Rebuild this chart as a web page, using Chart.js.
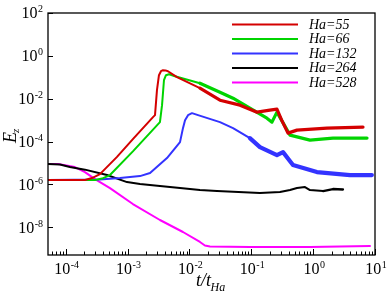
<!DOCTYPE html>
<html><head><meta charset="utf-8">
<style>html,body{margin:0;padding:0;background:#fff}canvas{display:block}</style>
<script src="https://cdn.jsdelivr.net/npm/chart.js@4.4.1/dist/chart.umd.min.js"></script>
</head><body>
<canvas id="c" width="392" height="295"></canvas>
<script>
// ---- data (t/t_Ha vs E_z) ----
const seriesLabels = ['Ha=55', 'Ha=66', 'Ha=132', 'Ha=264', 'Ha=528'];

const t55 = [5.18e-5, 2.05e-4, 2.66e-4, 3.09e-4, 3.58e-4, 6.7e-4, 1.22e-3, 2.58e-3, 2.78e-3, 2.99e-3, 3.22e-3, 3.47e-3, 3.74e-3, 4.1e-3, 4.5e-3, 6.3e-3, 1.48e-2, 3.12e-2, 6.58e-2, 0.124, 0.2, 0.26, 0.31, 0.392, 0.548, 1.67, 6.4];
const E55 = [1.6e-6, 1.62e-6, 1.98e-6, 2.45e-6, 3.04e-6, 1.89e-5, 1.3e-4, 1.38e-3, 1.71e-3, 0.025, 0.125, 0.192, 0.214, 0.21, 0.192, 0.101, 0.031, 8.55e-3, 5.0e-3, 2.36e-3, 2.92e-3, 3.26e-3, 1.0e-3, 2.48e-4, 3.42e-4, 4.24e-4, 4.72e-4];

const t66 = [5.18e-5, 2.98e-4, 3.86e-4, 5.2e-4, 1.22e-3, 3.34e-3, 3.61e-3, 3.88e-3, 4.18e-3, 4.68e-3, 5.85e-3, 1.48e-2, 3.12e-2, 5.07e-2, 9.5e-2, 0.179, 0.216, 0.26, 0.423, 0.889, 2.09, 7.43];
const E66 = [1.6e-6, 1.62e-6, 1.88e-6, 2.74e-6, 3.48e-5, 8.07e-4, 5.0e-3, 0.073, 0.125, 0.139, 0.112, 0.053, 0.0202, 0.0106, 3.62e-3, 1.24e-3, 8.07e-4, 2.36e-3, 2.0e-4, 1.17e-4, 1.45e-4, 1.45e-4];

const t132 = [5.18e-5, 3.58e-4, 7.55e-4, 1.59e-3, 2.31e-3, 3.1e-3, 4.34e-3, 7.05e-3, 7.87e-3, 8.5e-3, 9.5e-3, 1.1e-2, 1.38e-2, 3.12e-2, 5.07e-2, 9.5e-2, 0.138, 0.26, 0.326, 0.472, 1.15, 3.94, 8.9];
const E132 = [1.6e-6, 1.7e-6, 1.98e-6, 2.45e-6, 3.39e-6, 7.2e-6, 1.7e-5, 9.4e-5, 4.24e-4, 1e-3, 1.71e-3, 2.12e-3, 1.71e-3, 8.07e-4, 4.24e-4, 1.45e-4, 5.5e-5, 2.34e-5, 3.23e-5, 8.0e-6, 3.78e-6, 2.74e-6, 2.74e-6];

const t264 = [5.18e-5, 8.09e-5, 1.17e-4, 2.05e-4, 4.66e-4, 9.8e-4, 1.59e-3, 3.34e-3, 7.05e-3, 1.48e-2, 2.79e-2, 0.138, 0.291, 0.423, 0.548, 0.738, 0.889, 1.45, 2.09, 3.03];
const E264 = [8.9e-6, 8.45e-6, 6.46e-6, 4.9e-6, 2.74e-6, 1.29e-6, 1.04e-6, 8.4e-7, 6.78e-7, 5.47e-7, 4.91e-7, 3.96e-7, 4.41e-7, 5.47e-7, 6.78e-7, 7.55e-7, 5.47e-7, 4.91e-7, 6.08e-7, 5.8e-7];

const t528 = [5.18e-5, 7.51e-5, 1.41e-4, 2.05e-4, 2.98e-4, 5.2e-4, 1.22e-3, 3.34e-3, 7.87e-3, 1.48e-2, 1.78e-2, 2.15e-2, 9.5e-2, 0.889, 8.3];
const E528 = [8.9e-6, 8.9e-6, 6.46e-6, 3.78e-6, 1.78e-6, 6.78e-7, 1.22e-7, 2.19e-8, 6.04e-9, 2.07e-9, 1.42e-9, 1.28e-9, 1.21e-9, 1.21e-9, 1.34e-9];

// tick labels (exponents of 10)
const xTickExp = [-4, -3, -2, -1, 0, 1];
const yTickExp = [2, 0, -2, -4, -6, -8];
const xMinorMult = [2, 3, 4, 5, 6, 7, 8, 9];

const xRange = [5.18e-5, 10];
const yRange = [5.1e-10, 100];

const colors = ['#d40000', '#00d400', '#3333ff', '#000000', '#ff00ff'];
const noisyFrom = [0.012, 0.012, 0.09, 1.0, 100];
const noisyWidth = [3.2, 3.2, 4.2, 2.4, 2];

const xs = [t55, t66, t132, t264, t528];
const ys = [E55, E66, E132, E264, E528];

const SERIF = '"Liberation Serif", "DejaVu Serif", serif';

function drawPow(ctx, exp, x, baseY, align) {
  const main = '10', sup = String(exp);
  ctx.font = '16px ' + SERIF;
  const w1 = ctx.measureText(main).width;
  ctx.font = '10px ' + SERIF;
  const w2 = ctx.measureText(sup).width;
  const total = w1 + w2 + 0.5;
  let x0 = align === 'center' ? x - total / 2 : x - total;
  ctx.textAlign = 'left';
  ctx.textBaseline = 'alphabetic';
  ctx.font = '16px ' + SERIF;
  ctx.fillText(main, x0, baseY);
  ctx.font = '10px ' + SERIF;
  ctx.fillText(sup, x0 + w1 + 0.5, baseY - 6);
}

const axesPlugin = {
  id: 'axesPlugin',
  afterDatasetsDraw(chart) {
    const { ctx, chartArea: a } = chart;
    const xs_ = chart.scales.x, ys_ = chart.scales.y;
    ctx.save();
    ctx.strokeStyle = '#000';
    ctx.lineWidth = 1.3;
    ctx.strokeRect(a.left, a.top, a.right - a.left, a.bottom - a.top);
    ctx.lineWidth = 1;
    // x ticks (inward)
    const decades = [-5].concat(xTickExp);
    decades.forEach(e => {
      const base = Math.pow(10, e);
      if (base >= xs_.min && base <= xs_.max) {
        const px = Math.round(xs_.getPixelForValue(base)) + 0.5;
        ctx.beginPath(); ctx.moveTo(px, a.bottom); ctx.lineTo(px, a.bottom - 6); ctx.stroke();
      }
      xMinorMult.forEach(m => {
        const v = m * base;
        if (v < xs_.min || v > xs_.max) return;
        const px = Math.round(xs_.getPixelForValue(v)) + 0.5;
        ctx.beginPath(); ctx.moveTo(px, a.bottom); ctx.lineTo(px, a.bottom - 3.5); ctx.stroke();
      });
    });
    // y ticks (inward)
    yTickExp.forEach(e => {
      const py = Math.round(ys_.getPixelForValue(Math.pow(10, e))) + 0.5;
      ctx.beginPath(); ctx.moveTo(a.left, py); ctx.lineTo(a.left + 5, py); ctx.stroke();
    });
    // labels
    ctx.fillStyle = '#000';
    xTickExp.forEach(e => {
      const px = xs_.getPixelForValue(Math.pow(10, e));
      drawPow(ctx, e, px + 1, a.bottom + 18.5, 'center');
    });
    yTickExp.forEach(e => {
      const py = ys_.getPixelForValue(Math.pow(10, e));
      drawPow(ctx, e, a.left - 5, py + 5.3, 'right');
    });
    // axis titles
    ctx.textAlign = 'left';
    ctx.textBaseline = 'alphabetic';
    ctx.font = 'italic 18px ' + SERIF;
    const xt = 't/t';
    const wxt = ctx.measureText(xt).width;
    const xtStart = 196;
    ctx.fillText(xt, xtStart, 286);
    ctx.font = 'italic 12px ' + SERIF;
    ctx.fillText('Ha', xtStart + wxt - 0.5, 291);
    // y title
    ctx.save();
    ctx.translate(16, 143);
    ctx.rotate(-Math.PI / 2);
    ctx.font = 'italic 18px ' + SERIF;
    ctx.fillText('E', 0, 0);
    const wE = ctx.measureText('E').width;
    ctx.font = 'italic 11px ' + SERIF;
    ctx.fillText('z', wE - 1, 3);
    ctx.restore();
    // legend
    chart.data.datasets.forEach((ds, i) => {
      const y = 24.5 + i * 14.5;
      ctx.strokeStyle = ds.borderColor;
      ctx.lineWidth = 2;
      ctx.beginPath(); ctx.moveTo(232, y); ctx.lineTo(298, y); ctx.stroke();
      ctx.fillStyle = '#000';
      ctx.font = 'italic 14px ' + SERIF;
      ctx.textBaseline = 'middle';
      ctx.fillText(ds.label, 309, y + 0.5);
    });
    ctx.restore();
  }
};

const datasets = seriesLabels.map((lab, i) => ({
  label: lab,
  data: xs[i].map((t, j) => ({ x: t, y: ys[i][j] })),
  borderColor: colors[i],
  backgroundColor: colors[i],
  borderWidth: 2,
  pointRadius: 0,
  fill: false,
  tension: 0,
  borderJoinStyle: 'round',
  borderCapStyle: 'round',
  segment: {
    borderWidth: c => (c.p0.parsed.x >= noisyFrom[i] ? noisyWidth[i] : 2)
  }
}));

new Chart(document.getElementById('c'), {
  type: 'line',
  data: { datasets },
  options: {
    responsive: false,
    animation: false,
    devicePixelRatio: 1,
    layout: { padding: { left: 48, top: 13, right: 17, bottom: 40 } },
    plugins: { legend: { display: false }, tooltip: { enabled: false } },
    scales: {
      x: { type: 'logarithmic', min: xRange[0], max: xRange[1], display: false },
      y: { type: 'logarithmic', min: yRange[0], max: yRange[1], display: false }
    }
  },
  plugins: [axesPlugin]
});
</script>
</body></html>
